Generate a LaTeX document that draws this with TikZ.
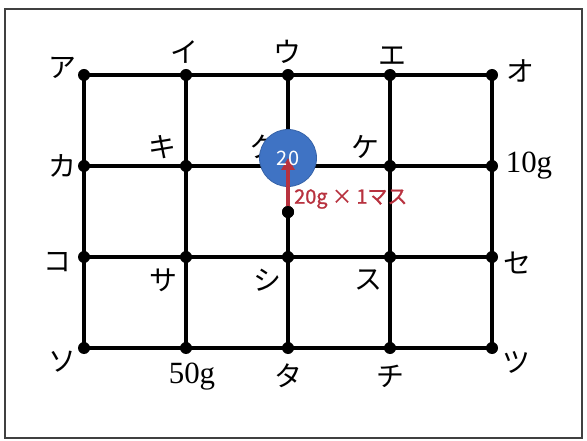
\documentclass[tikz,border=0pt]{standalone}
\usepackage{fontspec}
\setmainfont{Liberation Serif}
\newfontfamily\jpfont{Noto Sans CJK JP}
\newfontfamily\jpmedium[FakeBold=1.2]{Noto Sans CJK JP}
\usetikzlibrary{arrows.meta, positioning}
\definecolor{ballblue}{RGB}{63,115,196}
\definecolor{pullred}{RGB}{184,50,63}

\begin{document}
\begin{tikzpicture}[x=1bp, y=-1bp,
    gridpt/.style={circle, fill=black, inner sep=0pt, minimum size=12bp},
    gridline/.style={draw=black, line width=3.5bp},
    kana/.style={font=\jpfont\fontsize{28}{28}\selectfont, inner sep=0pt},
    weight/.style={font=\fontsize{31}{31}\selectfont, inner sep=0pt},
    ball/.style={circle, fill=ballblue, draw=ballblue!85!black, line width=0.8bp, minimum size=57bp, inner sep=0pt},
    ballnum/.style={text=white, font=\jpfont\fontsize{20}{20}\selectfont, inner sep=0pt},
    pull/.style={-{Triangle[width=13bp, length=12bp]}, draw=pullred, line width=4.5bp},
    pulllabel/.style={anchor=west, text=pullred, font=\jpmedium\fontsize{20}{20}\selectfont, inner sep=0pt}
]
    \useasboundingbox (0,0) rectangle (587,441);

    % --- Frame ---
    \draw[line width=1.5bp, black!75] (5,9) rectangle (582,438);

    % --- Grid points (5 columns x 4 rows) ---
    \foreach \c [count=\i] in {84,186,288,390,492} {
        \foreach \r [count=\j] in {75,166,257,348} {
            \coordinate (p\i\j) at (\c,\r);
        }
    }
    \foreach \j in {1,...,4} {
        \draw[gridline] (p1\j) -- (p5\j);
    }
    \foreach \i in {1,...,5} {
        \draw[gridline] (p\i1) -- (p\i4);
    }
    \foreach \i in {1,...,5} {
        \foreach \j in {1,...,4} {
            \node[gridpt] (d\i\j) at (p\i\j) {};
        }
    }

    % --- Labels ---
    \node[kana] (ka-a) at (62,68) {ア};
    \node[kana] (ka-i) at (184,52) {イ};
    \node[kana] (ka-u) at (287,52) {ウ};
    \node[kana] (ka-e) at (392,56) {エ};
    \node[kana] (ka-o) at (520,71) {オ};

    \node[kana] (ka-ka) at (62,166) {カ};
    \node[kana] (ka-ki) at (162,147) {キ};
    \node[kana] (ka-ku) at (263,147) {ク};
    \node[kana] (ka-ke) at (365,147) {ケ};
    \node[weight] (w-10) at (529,166) {10g};

    \node[kana] (ka-ko) at (57,262) {コ};
    \node[kana] (ka-sa) at (163,280) {サ};
    \node[kana] (ka-shi) at (267,280) {シ};
    \node[kana] (ka-su) at (368,280) {ス};
    \node[kana] (ka-se) at (517,263) {セ};

    \node[kana] (ka-so) at (62,362) {ソ};
    \node[weight] (w-50) at (192,377) {50g};
    \node[kana] (ka-ta) at (288,376) {タ};
    \node[kana] (ka-chi) at (390,376) {チ};
    \node[kana] (ka-tsu) at (516,362) {ツ};

    % --- Weight and pull ---
    \node[ball] (ball) at (288,158) {};
    \node[gridpt] (hook) at (288,212) {};
    \draw[pull] (hook.center) -- (ball.center);
    \node[gridpt] (hooktop) at (hook) {};
    \node[ballnum] (ball-num) at (ball) {20};
    \node[pulllabel] (pull-lbl) at (294,199) {20g × 1マス};

\end{tikzpicture}
\end{document}
